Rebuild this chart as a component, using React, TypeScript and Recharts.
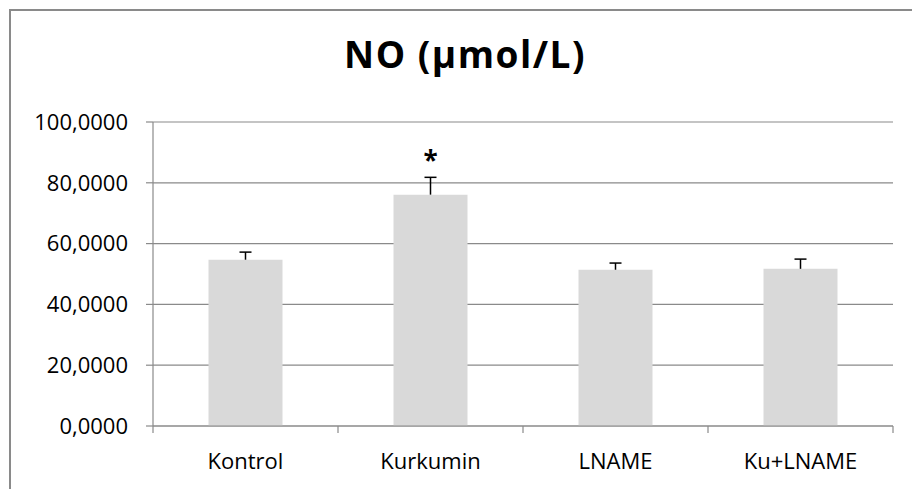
import React from 'react';
import { BarChart, Bar, XAxis, YAxis, CartesianGrid } from 'recharts';

const categories = ['Kontrol', 'Kurkumin', 'LNAME', 'Ku+LNAME'];
const means = [54.7, 76.1, 51.4, 51.7];
const errors = [2.5, 5.7, 2.2, 3.2];
const significant = [false, true, false, false];
const yTicks = [0, 20, 40, 60, 80, 100];

const data = categories.map((name, i) => ({
  name,
  mean: means[i],
  err: errors[i],
  star: significant[i],
}));

const FONT = '"Open Sans", sans-serif';
const GRID = '#8a8a8a';

const fmt = (v: number) => v.toFixed(4).replace('.', ',');

const ErrShape = (props: any) => {
  const { x, y, width, height } = props;
  const star = props.payload ? props.payload.star : props.star;
  const cx = x + width / 2;
  return (
    <g>
      <line x1={cx} x2={cx} y1={y + height} y2={y} stroke="#000" strokeWidth={1.5} />
      <line x1={cx - 6} x2={cx + 6} y1={y} y2={y} stroke="#000" strokeWidth={1.5} />
      {star ? (
        <text x={cx} y={y - 7} textAnchor="middle" fontFamily={FONT} fontWeight="bold" fontSize={26} fill="#000">
          *
        </text>
      ) : null}
    </g>
  );
};

const CatTick = (props: any) => {
  const { x, y, payload, index, visibleTicksCount } = props;
  const off = payload && typeof payload.offset === 'number' ? payload.offset : 0;
  const count = visibleTicksCount ?? categories.length;
  return (
    <g>
      {off ? <line x1={x - off} x2={x - off} y1={y} y2={y + 7} stroke={GRID} strokeWidth={1.2} /> : null}
      {off && index === count - 1 ? (
        <line x1={x + off} x2={x + off} y1={y} y2={y + 7} stroke={GRID} strokeWidth={1.2} />
      ) : null}
      <text x={x} y={y + 43} textAnchor="middle" fontFamily={FONT} fontSize={22} fill="#000">
        {payload.value}
      </text>
    </g>
  );
};

export default function App() {
  return (
    <div style={{ position: 'absolute', left: 0, top: 0, width: 912, height: 489, background: '#fff', overflow: 'hidden' }}>
      <div
        style={{
          position: 'absolute',
          left: 9,
          top: 9,
          width: 912,
          height: 489,
          borderTop: '2px solid #8a8a8a',
          borderLeft: '2px solid #8a8a8a',
        }}
      />
      <div
        style={{
          position: 'absolute',
          left: 0,
          width: 930,
          top: 35,
          textAlign: 'center',
          fontFamily: FONT,
          fontWeight: 'bold',
          fontSize: 37,
          letterSpacing: 1.5,
          lineHeight: 1,
          color: '#000',
          whiteSpace: 'nowrap',
        }}
      >
        NO (µmol/L)
      </div>
      <div style={{ position: 'absolute', left: 0, top: 0 }}>
        <BarChart
          width={912}
          height={489}
          data={data}
          margin={{ top: 122, right: 19, bottom: 23, left: 8 }}
          barCategoryGap="30%"
        >
          <CartesianGrid vertical={false} stroke={GRID} strokeWidth={1.2} />
          <XAxis
            dataKey="name"
            height={40}
            tickLine={false}
            tickSize={0}
            tickMargin={0}
            axisLine={{ stroke: GRID, strokeWidth: 1.2 }}
            tick={<CatTick />}
            interval={0}
          />
          <YAxis
            domain={[0, 100]}
            ticks={yTicks}
            width={145}
            tickSize={7}
            tickMargin={18}
            tickFormatter={fmt}
            axisLine={{ stroke: GRID, strokeWidth: 1.2 }}
            tickLine={{ stroke: GRID, strokeWidth: 1.2 }}
            tick={{ fontFamily: FONT, fontSize: 22, fill: '#000' }}
            interval={0}
          />
          <Bar dataKey="mean" stackId="s" fill="#d9d9d9" isAnimationActive={false} />
          <Bar dataKey="err" stackId="s" shape={ErrShape} isAnimationActive={false} />
        </BarChart>
      </div>
    </div>
  );
}
